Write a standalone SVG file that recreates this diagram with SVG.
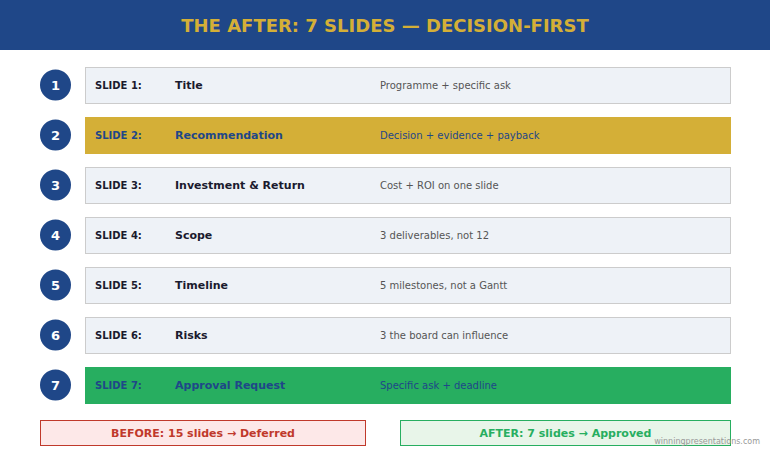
<svg xmlns="http://www.w3.org/2000/svg" width="770" height="450" viewBox="0 0 770 450">
<style>
text{font-family:"DejaVu Sans","Liberation Sans",sans-serif}
.hdr{fill:#1F4788}
.title{font-size:18px;font-weight:bold;fill:#D4AF37;text-anchor:middle}
.num{fill:#1F4788}
.numt{font-size:13px;font-weight:bold;fill:#FFFFFF;text-anchor:middle}
.box{fill:#EEF2F7;stroke:#CCCCCC;stroke-width:1}
.lbl{font-size:10px;font-weight:bold;fill:#1A1A2E}
.name{font-size:11px;font-weight:bold;fill:#1A1A2E}
.desc{font-size:10px;fill:#555555}
.hl .lbl,.hl .name,.hl .desc{fill:#1F4788}
.sum{font-size:11px;font-weight:bold;text-anchor:middle}
</style>
<rect class="hdr" x="0" y="0" width="770" height="50"/>
<text class="title" x="385" y="31.5">THE AFTER: 7 SLIDES — DECISION-FIRST</text>

<g id="slide1">
<circle class="num" cx="55.5" cy="85" r="15.5"/><text class="numt" x="55.5" y="89.5">1</text>
<rect class="box" x="85.5" y="67.5" width="645" height="36"/>
<text class="lbl" x="95" y="88.6">SLIDE 1:</text><text class="name" x="175" y="89">Title</text><text class="desc" x="380" y="88.6">Programme + specific ask</text>
</g>
<g id="slide2" class="hl">
<circle class="num" cx="55.5" cy="135" r="15.5"/><text class="numt" x="55.5" y="139.5">2</text>
<rect x="85" y="117" width="646" height="37" fill="#D4AF37"/>
<text class="lbl" x="95" y="138.6">SLIDE 2:</text><text class="name" x="175" y="139">Recommendation</text><text class="desc" x="380" y="138.6">Decision + evidence + payback</text>
</g>
<g id="slide3">
<circle class="num" cx="55.5" cy="185" r="15.5"/><text class="numt" x="55.5" y="189.5">3</text>
<rect class="box" x="85.5" y="167.5" width="645" height="36"/>
<text class="lbl" x="95" y="188.6">SLIDE 3:</text><text class="name" x="175" y="189">Investment &amp; Return</text><text class="desc" x="380" y="188.6">Cost + ROI on one slide</text>
</g>
<g id="slide4">
<circle class="num" cx="55.5" cy="235" r="15.5"/><text class="numt" x="55.5" y="239.5">4</text>
<rect class="box" x="85.5" y="217.5" width="645" height="36"/>
<text class="lbl" x="95" y="238.6">SLIDE 4:</text><text class="name" x="175" y="239">Scope</text><text class="desc" x="380" y="238.6">3 deliverables, not 12</text>
</g>
<g id="slide5">
<circle class="num" cx="55.5" cy="285" r="15.5"/><text class="numt" x="55.5" y="289.5">5</text>
<rect class="box" x="85.5" y="267.5" width="645" height="36"/>
<text class="lbl" x="95" y="288.6">SLIDE 5:</text><text class="name" x="175" y="289">Timeline</text><text class="desc" x="380" y="288.6">5 milestones, not a Gantt</text>
</g>
<g id="slide6">
<circle class="num" cx="55.5" cy="335" r="15.5"/><text class="numt" x="55.5" y="339.5">6</text>
<rect class="box" x="85.5" y="317.5" width="645" height="36"/>
<text class="lbl" x="95" y="338.6">SLIDE 6:</text><text class="name" x="175" y="339">Risks</text><text class="desc" x="380" y="338.6">3 the board can influence</text>
</g>
<g id="slide7" class="hl">
<circle class="num" cx="55.5" cy="385" r="15.5"/><text class="numt" x="55.5" y="389.5">7</text>
<rect x="85" y="367" width="646" height="37" fill="#27AE60"/>
<text class="lbl" x="95" y="388.6">SLIDE 7:</text><text class="name" x="175" y="389">Approval Request</text><text class="desc" x="380" y="388.6">Specific ask + deadline</text>
</g>

<g id="before">
<rect x="40.5" y="420.5" width="325" height="25" fill="#FDE8E8" stroke="#C0392B"/>
<text class="sum" x="203" y="436.5" fill="#C0392B">BEFORE: 15 slides → Deferred</text>
</g>
<g id="after">
<rect x="400.5" y="420.5" width="330" height="25" fill="#E8F5E9" stroke="#27AE60"/>
<text class="sum" x="565.5" y="436.5" fill="#27AE60">AFTER: 7 slides → Approved</text>
</g>
<g id="connectors"/>
<text x="760" y="444" font-size="8" fill="#999999" text-anchor="end">winningpresentations.com</text>
</svg>
